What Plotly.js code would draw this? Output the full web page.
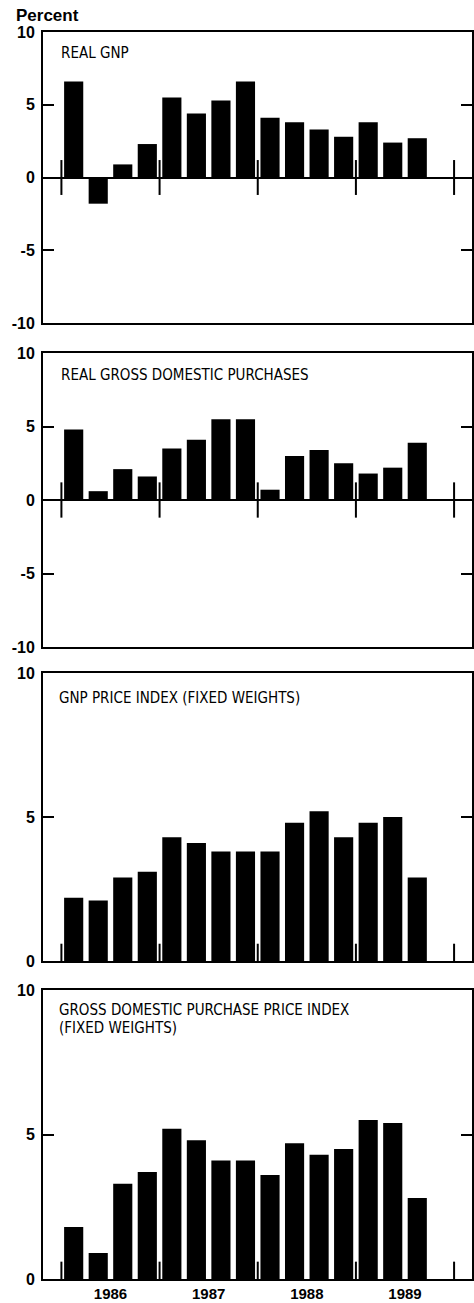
<!DOCTYPE html>
<html>
<head>
<meta charset="utf-8">
<script src="https://cdn.plot.ly/plotly-3.0.1.min.js"></script>
<style>
html,body{margin:0;padding:0;background:#fff;}
#chart{width:474px;height:1303px;}
</style>
</head>
<body>
<div id="chart"></div>
<script>
// ---- Data (percent change, quarterly, annual rate) ----
const quarters = ['1986 Q1','1986 Q2','1986 Q3','1986 Q4',
                  '1987 Q1','1987 Q2','1987 Q3','1987 Q4',
                  '1988 Q1','1988 Q2','1988 Q3','1988 Q4',
                  '1989 Q1','1989 Q2','1989 Q3'];
const realGNP            = [6.6, -1.8, 0.9, 2.3, 5.5, 4.4, 5.3, 6.6, 4.1, 3.8, 3.3, 2.8, 3.8, 2.4, 2.7];
const realGrossDomPurch  = [4.8,  0.6, 2.1, 1.6, 3.5, 4.1, 5.5, 5.5, 0.7, 3.0, 3.4, 2.5, 1.8, 2.2, 3.9];
const gnpPriceIndex      = [2.2,  2.1, 2.9, 3.1, 4.3, 4.1, 3.8, 3.8, 3.8, 4.8, 5.2, 4.3, 4.8, 5.0, 2.9];
const gdPurchPriceIndex  = [1.8,  0.9, 3.3, 3.7, 5.2, 4.8, 4.1, 4.1, 3.6, 4.7, 4.3, 4.5, 5.5, 5.4, 2.8];
const yearLabels = ['1986','1987','1988','1989'];
const yTicksSigned   = [-10, -5, 0, 5, 10];
const yTicksPositive = [0, 5, 10];
const panelTitles = [
  ['REAL GNP'],
  ['REAL GROSS DOMESTIC PURCHASES'],
  ['GNP PRICE INDEX (FIXED WEIGHTS)'],
  ['GROSS DOMESTIC PURCHASE PRICE INDEX', '(FIXED WEIGHTS)']
];

// ---- Layout geometry (pixels) ----
const W = 474, H = 1303;
const plotLeft = 43, plotRight = 472;
const panelBoxes = [ {top:32, bottom:323}, {top:353, bottom:647}, {top:673, bottom:961}, {top:990, bottom:1279} ];
const titleCenters = [[52.5], [375], [698], [1010, 1028]];
const titleLeft = [59, 59, 57, 57];

const seriesList = [realGNP, realGrossDomPurch, gnpPriceIndex, gdPurchPriceIndex];
const xPos = quarters.map((q, i) => i);
const yearFirstIdx = yearLabels.map(y => quarters.findIndex(q => q.startsWith(y)));
const boundaries = yearFirstIdx.map(i => i - 0.5).concat([yearFirstIdx[yearFirstIdx.length-1] + 3.5]);
const yearCenters = yearFirstIdx.map(i => i + 1.5);
const xRange = [-1.25, 16.23];

const numFont = {family: 'Liberation Sans, Arial, sans-serif', size: 16, color: '#000', weight: 'bold'};
const titleFont = {family: '"Liberation Sans Narrow", "Arial Narrow", "DejaVu Sans Condensed", sans-serif', size: 15, color: '#000'};

const traces = [];
const layout = {
  width: W, height: H,
  margin: {l:0, r:0, t:0, b:0},
  paper_bgcolor: '#fff', plot_bgcolor: '#fff',
  showlegend: false,
  bargap: 0.22,
  shapes: [], annotations: []
};

seriesList.forEach((vals, p) => {
  const n = p + 1;
  const xa = 'xaxis' + (n === 1 ? '' : n);
  const ya = 'yaxis' + (n === 1 ? '' : n);
  const xr = 'x' + (n === 1 ? '' : n);
  const yr = 'y' + (n === 1 ? '' : n);
  const signed = vals.some(v => v < 0) || p < 2;
  traces.push({
    type: 'bar', x: xPos, y: vals, xaxis: xr, yaxis: yr,
    marker: {color: '#000', line: {width: 0}},
    hoverinfo: 'skip'
  });
  const box = panelBoxes[p];
  const isLast = p === seriesList.length - 1;
  layout[xa] = {
    domain: [plotLeft / W, plotRight / W],
    anchor: yr,
    range: xRange,
    showgrid: false, zeroline: false,
    showline: true, mirror: true, linecolor: '#000', linewidth: 2,
    ticks: '',
    tickmode: 'array',
    tickvals: isLast ? yearCenters : [],
    ticktext: isLast ? yearLabels : [],
    showticklabels: isLast,
    tickfont: {family: 'Liberation Sans, Arial, sans-serif', size: 15, color: '#000', weight: 'bold'},
    ticklabelstandoff: 0,
    fixedrange: true
  };
  const tv = signed ? yTicksSigned : yTicksPositive;
  layout[ya] = {
    domain: [1 - box.bottom / H, 1 - box.top / H],
    anchor: xr,
    range: signed ? [-10, 10] : [0, 10],
    showgrid: false,
    zeroline: signed, zerolinecolor: '#000', zerolinewidth: 2,
    showline: true, mirror: 'ticks', linecolor: '#000', linewidth: 2,
    ticks: 'inside', ticklen: 11, tickwidth: 2, tickcolor: '#000',
    tickmode: 'array', tickvals: tv, ticktext: tv.map(String),
    tickfont: numFont,
    ticklabelstandoff: 3,
    fixedrange: true
  };
  // year boundary tick marks on the zero line
  boundaries.forEach(b => {
    layout.shapes.push({
      type: 'line', xref: xr, yref: yr,
      x0: b, x1: b, y0: signed ? -1.2 : 0, y1: signed ? 1.2 : 0.6,
      line: {color: '#000', width: 2}
    });
  });
  // panel titles
  panelTitles[p].forEach((t, k) => {
    layout.annotations.push({
      text: t, xref: 'paper', yref: 'paper',
      x: titleLeft[p] / W, y: 1 - titleCenters[p][k] / H,
      xanchor: 'left', yanchor: 'middle', showarrow: false,
      font: titleFont
    });
  });
});

layout.annotations.push({
  text: 'Percent', xref: 'paper', yref: 'paper',
  x: 14 / W, y: 1 - 16 / H, xanchor: 'left', yanchor: 'middle', showarrow: false,
  font: {family: 'Liberation Sans, Arial, sans-serif', size: 17, color: '#000', weight: 'bold'}
});

Plotly.newPlot('chart', traces, layout, {staticPlot: true, displayModeBar: false});
</script>
</body>
</html>
